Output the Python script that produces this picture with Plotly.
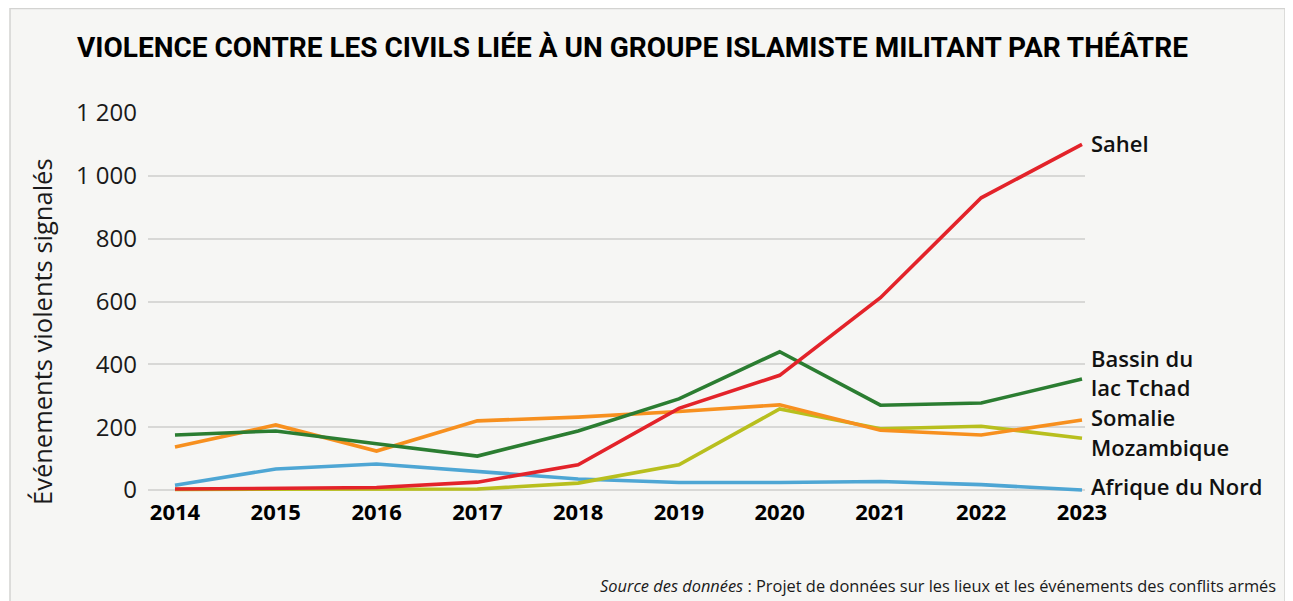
import plotly.graph_objects as go

years = [2014, 2015, 2016, 2017, 2018, 2019, 2020, 2021, 2022, 2023]
sahel = [3, 5, 8, 25, 80, 260, 365, 612, 930, 1100]
tchad = [175, 188, 147, 108, 188, 290, 440, 270, 277, 353]
somalie = [137, 207, 124, 220, 232, 250, 271, 190, 175, 223]
mozambique = [2, 2, 2, 3, 22, 80, 258, 195, 203, 165]
afrique_nord = [15, 67, 83, 58, 35, 24, 24, 27, 17, 0]

series_names = ["Sahel", "Bassin du<br>lac Tchad", "Somalie", "Mozambique", "Afrique du Nord"]
series_values = [sahel, tchad, somalie, mozambique, afrique_nord]
series_colors = ["#e3232a", "#2b7d31", "#f7901f", "#b8bf1e", "#4ea6d4"]

y_tick_vals = [0, 200, 400, 600, 800, 1000, 1200]
y_tick_text = ["0", "200", "400", "600", "800", "1 000", "1 200"]

title_text = "VIOLENCE CONTRE LES CIVILS LIÉE À UN GROUPE ISLAMISTE MILITANT PAR THÉÂTRE"
y_title = "Événements violents signalés"
source_text = "<i>Source des données</i> : Projet de données sur les lieux et les événements des conflits armés"

# the page body has an 8px margin; work in screen pixels and shift
O = 8
W, H = 1285 - O, 601 - O
L, R, T, B = 148 - O, 1085 - O, 113 - O, 495 - O


def xp(px):
    return (px - O - L) / (R - L)


def yp(py):
    return (B - (py - O)) / (B - T)


fig = go.Figure()
order = [4, 3, 2, 1, 0]
for i in order:
    fig.add_trace(go.Scatter(
        x=years, y=series_values[i], mode="lines",
        line=dict(color=series_colors[i], width=3.6),
        name=series_names[i].replace("<br>", " "),
        showlegend=False, hoverinfo="x+y+name",
    ))

label_y_px = [143, 372, 417, 447, 486]
annotations = []
for name, py in zip(series_names, label_y_px):
    annotations.append(dict(
        text=name, x=xp(1089), y=yp(py), xref="paper", yref="paper",
        xanchor="left", yanchor="middle", showarrow=False, align="left",
        font=dict(family="Open Sans", size=22, color="#111111", weight=600),
    ))

annotations.append(dict(
    text="<b>" + title_text + "</b>", x=xp(632), y=yp(48), xref="paper", yref="paper",
    xanchor="center", yanchor="middle", showarrow=False,
    font=dict(family="Roboto", size=28, color="#000000"),
))
annotations.append(dict(
    text=y_title, x=xp(42), y=yp(332), xref="paper", yref="paper",
    xanchor="center", yanchor="middle", showarrow=False, textangle=-90,
    font=dict(family="Open Sans", size=25.5, color="#1a1a1a"),
))
annotations.append(dict(
    text=source_text, x=xp(1278), y=yp(585), xref="paper", yref="paper",
    xanchor="right", yanchor="middle", showarrow=False,
    font=dict(family="Open Sans", size=16.4, color="#1a1a1a"),
))

fig.update_layout(
    width=W, height=H,
    margin=dict(l=L, r=W - R, t=T, b=H - B, pad=0),
    paper_bgcolor="#ffffff",
    plot_bgcolor="rgba(0,0,0,0)",
    annotations=annotations,
    shapes=[dict(
        type="rect", xref="paper", yref="paper",
        x0=xp(10), x1=xp(1285), y0=yp(610), y1=yp(8.5),
        fillcolor="#f6f6f4", line=dict(color="#d3d3d1", width=1.5), layer="below",
    )],
)

fig.update_xaxes(
    range=[2014 - 27 / 100.8, 2023 + 3 / 100.8],
    tickvals=years, ticktext=[f"<b>{y}</b>" for y in years],
    showgrid=False, zeroline=False, showline=False, ticks="",
    tickfont=dict(family="Open Sans", size=22, color="#000000"),
    ticklabelstandoff=2,
)
fig.update_yaxes(
    range=[-15.9, 1200],
    tickvals=y_tick_vals, ticktext=y_tick_text,
    showgrid=True, gridcolor="#d8d8d6", gridwidth=1.5,
    zeroline=False, showline=False, ticks="",
    tickfont=dict(family="Open Sans", size=24, color="#1a1a1a"),
    ticklabelstandoff=10,
)

fig.write_html("out.html")
